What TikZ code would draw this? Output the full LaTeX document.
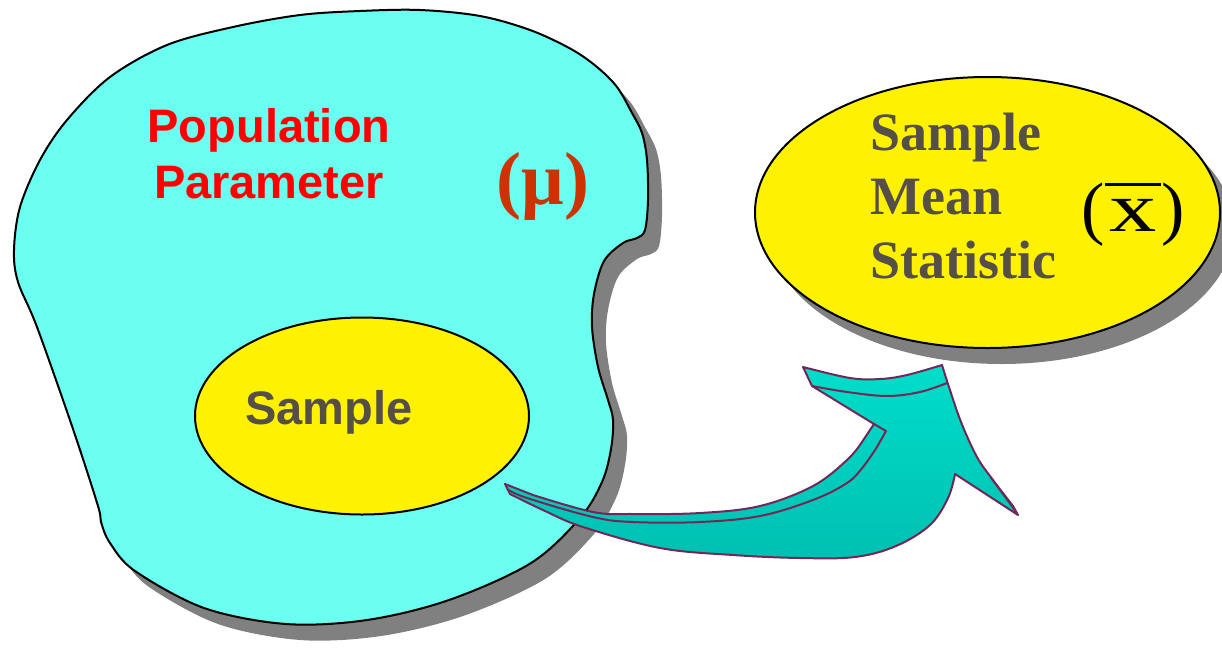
\documentclass[tikz,border=0pt]{standalone}
\usepackage{graphicx}
\usepackage{fontspec}
\setmainfont{Liberation Serif}
\newfontfamily\arialfont{Liberation Sans}
\usetikzlibrary{shapes.geometric}

\definecolor{blobcyan}{RGB}{106,255,240}
\definecolor{shadowgray}{RGB}{128,128,128}
\definecolor{textgray}{RGB}{85,79,72}
\definecolor{muorange}{RGB}{204,51,0}
\definecolor{arrowtop}{RGB}{0,222,202}
\definecolor{arrowbot}{RGB}{0,192,178}
\definecolor{arrowline}{RGB}{112,40,88}

\tikzset{
  blob/.pic={
    \path[pic actions] plot[smooth cycle, tension=0.55] coordinates {
      (420,10) (480,16) (530,30) (571,49) (597,67) (617,87) (632,113) (642,133)
      (647,160) (648,200) (645,230) (637,238) (623,243) (604,261) (594,294)
      (592,327) (598,367) (608,400) (613,420) (611,449) (602,482) (580,518)
      (531,563) (449,600) (367,620) (286,624) (204,608) (135,571) (110,543)
      (101,522) (98,506) (73,429) (37,327) (18,282) (14,250) (20,207)
      (40,160) (67,120) (110,77) (167,45) (233,27) (300,15) (360,11)};
  },
  outline/.style={draw=black, line width=2pt},
  shadowfill/.style={fill=shadowgray},
  yellowoval/.style={ellipse, inner sep=0pt, fill=yellow, outline},
  ovalshadow/.style={ellipse, inner sep=0pt, shadowfill},
  sanslabel/.style={anchor=base, inner sep=0pt, font=\arialfont\bfseries\fontsize{47}{56}\selectfont},
  seriflabel/.style={anchor=base west, inner sep=0pt, text=textgray, font=\bfseries\fontsize{54}{64}\selectfont},
  ribbon/.style={draw=arrowline, line width=2pt, line join=round, top color=arrowtop, bottom color=arrowbot},
  fold/.style={draw=arrowline, line width=2pt, line join=round},
}

\begin{document}
\begin{tikzpicture}[x=1pt, y=-1pt]
\useasboundingbox (0,0) rectangle (1222,664);

% population region with its drop shadow
\pic[shadowfill] at (14,16) {blob};
\pic[fill=blobcyan, outline] at (0,0) {blob};

\node[sanslabel, text=red] (pop1) at (269,142) {Population};
\node[sanslabel, text=red] (pop2) at (269,198) {Parameter};
\node[anchor=base, inner sep=0pt, text=muorange, font=\bfseries\fontsize{75}{80}\selectfont] (mu) at (543,204) {(μ)};

% sample drawn from the population
\node[yellowoval, minimum width=334pt, minimum height=197pt] (sample) at (362,416) {};
\node[sanslabel, text=textgray] (samplelbl) at (329,424) {Sample};

% sample statistic oval
\node[ovalshadow, minimum width=465pt, minimum height=271pt] (statshadow) at (1001.5,228.5) {};
\node[yellowoval, minimum width=465pt, minimum height=271pt] (stat) at (987.5,212.5) {};
\node[seriflabel] (st1) at (870,150) {Sample};
\node[seriflabel] (st2) at (870,214) {Mean};
\node[seriflabel] (st3) at (870,278) {Statistic};
\node[anchor=base, inner sep=0pt, font=\fontsize{70}{80}\selectfont] (xbar) at (1133,231)
  {(\kern5pt\ooalign{\scalebox{1.35}[1]{x}\cr\hidewidth\rule[0.64em]{0.8em}{0.05em}\hidewidth\cr}\kern5pt)};

% curved block arrow from the sample to the statistic
\path[ribbon] (505,484)
  -- plot[smooth, tension=0.6] coordinates {(510,494) (545,511) (583,527) (660,548) (733,555) (800,558) (855,557) (896,546) (930,525) (948,498) (955,474)}
  -- (1018,515)
  -- plot[smooth, tension=0.6] coordinates {(1013,506) (993,480) (977,457) (961,422) (948,384) (942,365)}
  -- plot[smooth, tension=0.6] coordinates {(942,365) (907,375) (880,379) (850,378) (803,367)}
  -- (812,386) -- (874,424)
  -- plot[smooth, tension=0.6] coordinates {(862,442) (847,460) (813,486) (760,506) (700,513) (633,514) (593,512) (533,495)}
  -- cycle;
% folds of the ribbon
\draw[fold] plot[smooth, tension=0.6] coordinates {(812,386) (847,392) (887,396) (920,392) (947,383)};
\draw[fold] (874,424) -- (886,431)
  -- plot[smooth, tension=0.6] coordinates {(877,447) (863,467) (847,483) (813,500) (760,516) (700,522) (633,522) (593,517) (527,498) (507,489)};
\draw[fold, line width=1.2pt] (990,477) -- (1015,511);
\end{tikzpicture}
\end{document}
